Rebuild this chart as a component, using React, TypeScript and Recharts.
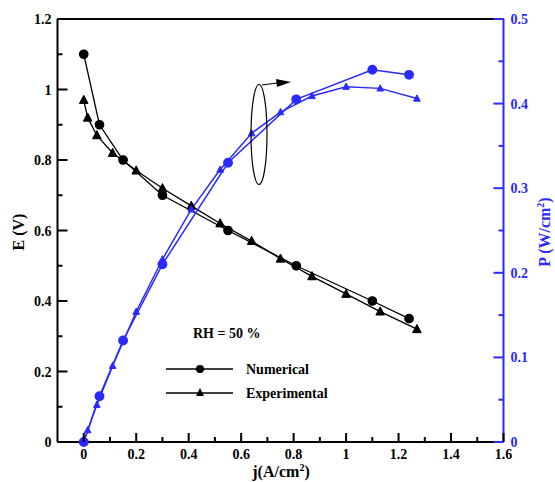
import React from "react";
import {
  LineChart,
  Line,
  XAxis,
  YAxis,
  ReferenceLine,
} from "recharts";

// Numerical (model) results
const numI = [0, 0.06, 0.15, 0.3, 0.55, 0.81, 1.1, 1.24];
const numE = [1.1, 0.9, 0.8, 0.7, 0.6, 0.5, 0.4, 0.35];
const numP = [0, 0.054, 0.12, 0.21, 0.33, 0.405, 0.44, 0.434];

// Experimental results
const expI = [0, 0.015, 0.05, 0.11, 0.2, 0.3, 0.41, 0.52, 0.64, 0.75, 0.87, 1.0, 1.13, 1.27];
const expE = [0.97, 0.92, 0.87, 0.82, 0.77, 0.72, 0.67, 0.62, 0.57, 0.52, 0.47, 0.42, 0.37, 0.32];
const expP = [0, 0.014, 0.044, 0.09, 0.154, 0.216, 0.275, 0.322, 0.365, 0.39, 0.409, 0.42, 0.418, 0.406];

const xTicks = [0, 0.1, 0.2, 0.3, 0.4, 0.5, 0.6, 0.7, 0.8, 0.9, 1, 1.1, 1.2, 1.3, 1.4, 1.5, 1.6];
const eTicks = [0, 0.1, 0.2, 0.3, 0.4, 0.5, 0.6, 0.7, 0.8, 0.9, 1, 1.1, 1.2];
const pTicks = [0, 0.05, 0.1, 0.15, 0.2, 0.25, 0.3, 0.35, 0.4, 0.45, 0.5];

const FONT = "Liberation Serif, Times New Roman, serif";
const BLUE = "#2a2aff";
const txt = { fontFamily: FONT, fontWeight: 700 } as const;

const numEData = numI.map((i, k) => ({ i, v: numE[k] }));
const expEData = expI.map((i, k) => ({ i, v: expE[k] }));
const numPData = numI.map((i, k) => ({ i, v: numP[k] }));
const expPData = expI.map((i, k) => ({ i, v: expP[k] }));

const fmt = (v: number) => String(Number(v.toFixed(2)));

// ticks point inward, minor ticks get no label
const XTick = (props: any) => {
  const { x, y, payload } = props;
  const major = Math.round(payload.value * 10) % 2 === 0;
  return (
    <g>
      <line x1={x} y1={y} x2={x} y2={y - (major ? 9 : 5)} stroke="#000" strokeWidth={2} />
      {major && (
        <text x={x} y={y + 17} textAnchor="middle" style={txt} fontSize={14} fill="#000">
          {fmt(payload.value)}
        </text>
      )}
    </g>
  );
};

const ETick = (props: any) => {
  const { x, y, payload } = props;
  const major = Math.round(payload.value * 10) % 2 === 0;
  return (
    <g>
      <line x1={x} y1={y} x2={x + (major ? 10 : 5)} y2={y} stroke="#000" strokeWidth={2} />
      {major && (
        <text x={x - 6} y={y + 5} textAnchor="end" style={txt} fontSize={14} fill="#000">
          {fmt(payload.value)}
        </text>
      )}
    </g>
  );
};

const PTick = (props: any) => {
  const { x, y, payload } = props;
  const major = Math.round(payload.value * 100) % 10 === 0;
  return (
    <g>
      <line x1={x} y1={y} x2={x - (major ? 10 : 5)} y2={y} stroke={BLUE} strokeWidth={2} />
      {major && (
        <text x={x + 7} y={y + 5} textAnchor="start" style={txt} fontSize={14} fill={BLUE}>
          {fmt(payload.value)}
        </text>
      )}
    </g>
  );
};

const triangle = (color: string, s: number) => (props: any) => {
  const { cx, cy, index } = props;
  if (cx == null || cy == null) return <g key={index} />;
  return (
    <polygon
      key={index}
      points={`${cx},${cy - s * 1.1} ${cx - s},${cy + s * 0.8} ${cx + s},${cy + s * 0.8}`}
      fill={color}
      stroke={color}
    />
  );
};

export default function App() {
  return (
    <div style={{ position: "absolute", left: 0, top: 0, width: 555, height: 482, background: "#fff" }}>
      <LineChart
        width={555}
        height={482}
        margin={{ top: 19, right: 11.5, left: 17.5, bottom: 10 }}
      >
        <XAxis
          type="number"
          dataKey="i"
          domain={[-0.1, 1.6]}
          ticks={xTicks}
          allowDataOverflow
          height={30}
          tickSize={0}
          tickMargin={0}
          tickLine={false}
          tick={<XTick />}
          axisLine={{ stroke: "#000", strokeWidth: 2 }}
          interval={0}
        />
        <YAxis
          yAxisId="left"
          type="number"
          dataKey="v"
          domain={[0, 1.2]}
          ticks={eTicks}
          width={40}
          tickSize={0}
          tickMargin={0}
          tickLine={false}
          tick={<ETick />}
          axisLine={{ stroke: "#000", strokeWidth: 2 }}
          interval={0}
        />
        <YAxis
          yAxisId="right"
          orientation="right"
          type="number"
          dataKey="v"
          domain={[0, 0.5]}
          ticks={pTicks}
          width={40}
          tickSize={0}
          tickMargin={0}
          tickLine={false}
          tick={<PTick />}
          axisLine={{ stroke: BLUE, strokeWidth: 2 }}
          interval={0}
        />
        <ReferenceLine yAxisId="left" y={1.2} stroke="#000" strokeWidth={2} />

        <Line
          yAxisId="left"
          data={numEData}
          dataKey="v"
          stroke="#000"
          strokeWidth={1.3}
          dot={{ r: 4.2, fill: "#000", stroke: "#000" }}
          isAnimationActive={false}
        />
        <Line
          yAxisId="left"
          data={expEData}
          dataKey="v"
          stroke="#000"
          strokeWidth={1.3}
          dot={triangle("#000", 4.3)}
          isAnimationActive={false}
        />
        <Line
          yAxisId="right"
          data={numPData}
          dataKey="v"
          stroke={BLUE}
          strokeWidth={1.5}
          dot={{ r: 4.2, fill: BLUE, stroke: BLUE }}
          isAnimationActive={false}
        />
        <Line
          yAxisId="right"
          data={expPData}
          dataKey="v"
          stroke={BLUE}
          strokeWidth={1.5}
          dot={triangle(BLUE, 3.3)}
          isAnimationActive={false}
        />
      </LineChart>

      {/* annotations: axis titles, legend, ellipse + arrow */}
      <svg
        width={555}
        height={482}
        style={{ position: "absolute", left: 0, top: 0, pointerEvents: "none" }}
      >
        <text x={24} y={232} transform="rotate(-90 24 232)" textAnchor="middle" style={txt} fontSize={16} fill="#000">
          E (V)
        </text>
        <text x={281} y={477} textAnchor="middle" style={txt} fontSize={16} fill="#000">
          j(A/cm<tspan dy={-6} fontSize={10}>2</tspan>
          <tspan dy={6}>)</tspan>
        </text>
        <text x={550} y={232} transform="rotate(-90 550 232)" textAnchor="middle" style={txt} fontSize={16} fill={BLUE}>
          P (W/cm<tspan dy={-6} fontSize={10}>2</tspan>
          <tspan dy={6}>)</tspan>
        </text>

        <text x={193} y={338} style={txt} fontSize={14} fill="#000">RH = 50 %</text>
        <line x1={166} y1={369} x2={233} y2={369} stroke="#000" strokeWidth={1.3} />
        <circle cx={200} cy={369} r={4} fill="#000" />
        <text x={246} y={374} style={txt} fontSize={14} fill="#000">Numerical</text>
        <line x1={166} y1={393} x2={233} y2={393} stroke="#000" strokeWidth={1.3} />
        <polygon points="200,388 196,396 204,396" fill="#000" />
        <text x={246} y={398} style={txt} fontSize={14} fill="#000">Experimental</text>

        <ellipse cx={259} cy={134.5} rx={8} ry={50} fill="none" stroke="#000" strokeWidth={1.2} />
        <line x1={262} y1={85} x2={277} y2={83} stroke="#000" strokeWidth={1.2} />
        <polygon points="276,79 291,82 277,87" fill="#000" />
      </svg>
    </div>
  );
}
